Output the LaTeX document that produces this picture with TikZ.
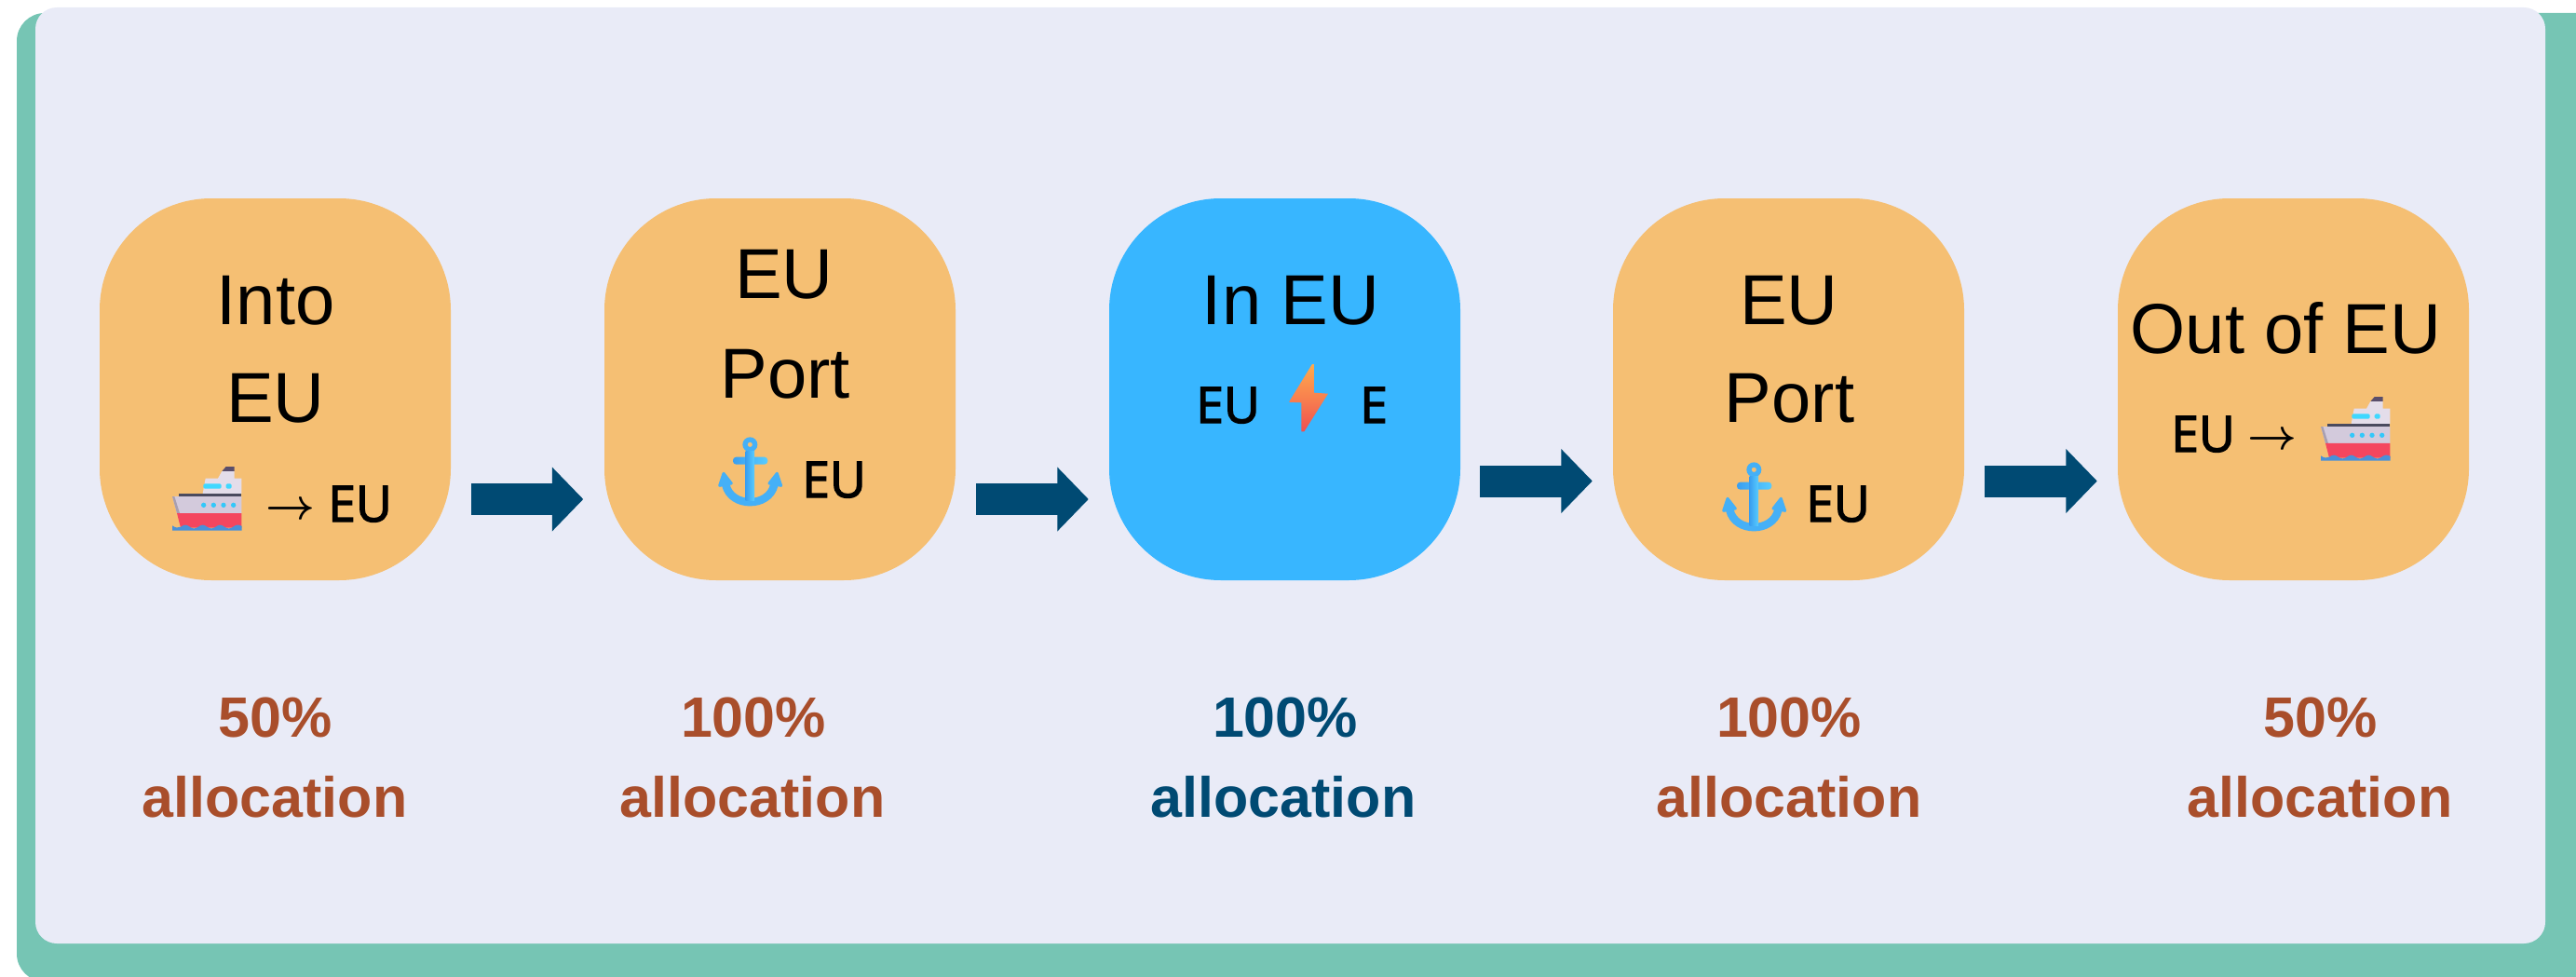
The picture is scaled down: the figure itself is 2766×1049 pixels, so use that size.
\documentclass[tikz,border=0pt]{standalone}
\usepackage{fontspec}
\setmainfont{Liberation Sans}
\newfontfamily\iconfont[FakeBold=2.5]{Open Sans}
\usetikzlibrary{arrows.meta,calc}
\definecolor{frameGreen}{HTML}{76C5B4}
\definecolor{panelBg}{HTML}{E9EBF7}
\definecolor{stepOrange}{HTML}{F5BF73}
\definecolor{stepBlue}{HTML}{38B6FF}
\definecolor{navyArrow}{HTML}{004A73}
\definecolor{rust}{HTML}{A94E2B}
\tikzset{
  stepbox/.style={rounded corners=120pt,minimum width=377pt,minimum height=410pt,inner sep=0pt,fill=stepOrange,draw=none},
  bigtext/.style={font=\fontsize{76}{82}\selectfont,anchor=base,inner sep=0pt,text=black},
  icontext/.style={font=\iconfont\fontsize{53.5}{58}\selectfont,anchor=base west,inner sep=0pt,text=black},
  thinarrow/.style={scale=4.6,inner sep=0pt,text=black,font=\boldmath},
  pct/.style={font=\bfseries\fontsize{61}{67}\selectfont,anchor=base,inner sep=0pt,text=rust},
  blockarrow/.style={draw=navyArrow,line width=34pt,-{Triangle[length=33.5pt,width=67pt,fill=navyArrow]}},
  pics/ship/.style={code={
    \begin{scope}[x=.3333pt,y=-.3333pt]
      \fill[fill={rgb,255:red,90;green,78;blue,107}] (160,15)--(173,0)--(200,0)--(200,15)--cycle;
      \fill[fill={rgb,255:red,228;green,221;blue,234}] (147,38)--(160,15)--(200,15)--(200,38)--(223,38)--(223,87)--(98,87)--(107,38)--cycle;
      \fill[fill={rgb,255:red,63;green,216;blue,255},rounded corners=1.5pt] (100,55) rectangle (158,71);
      \fill[fill={rgb,255:red,63;green,216;blue,255},rounded corners=1.5pt] (173,55) rectangle (191,71);
      \fill[fill={rgb,255:red,211;green,202;blue,220}] (0,96)--(223,96)--(223,150)--(15,150)--cycle;
      \fill[fill={rgb,255:red,168;green,159;blue,176}] (0,96)--(7,96)--(24,150)--(15,150)--cycle;
      \fill[fill={rgb,255:red,74;green,74;blue,94}] (22,87) rectangle (223,96);
      \foreach \px in {101,133,165,197}{\fill[fill={rgb,255:red,50;green,200;blue,250}] (\px,124) circle (8);}
      \fill[fill={rgb,255:red,244;green,70;blue,95}] (15,150)--(223,150)--(223,197)--(27,197)--cycle;
      \fill[fill={rgb,255:red,74;green,144;blue,217}] (0,190)
        .. controls (10,198) and (20,198) .. (28,194) .. controls (38,186) and (46,186) .. (56,194)
        .. controls (66,201) and (74,201) .. (84,194) .. controls (94,186) and (102,186) .. (112,194)
        .. controls (122,201) and (130,201) .. (140,194) .. controls (150,186) and (158,186) .. (168,194)
        .. controls (178,201) and (186,201) .. (196,194) .. controls (206,186) and (214,186) .. (224,192)
        -- (224,206) -- (0,206) -- cycle;
    \end{scope}}},
  pics/anchorsign/.style={code={
    \begin{scope}[x=.3333pt,y=-.3333pt]
      \definecolor{ancA}{HTML}{3A9FF0}\definecolor{ancB}{HTML}{58CCFF}\definecolor{ancM}{HTML}{45B0F7}
      \draw[ancM,line width=8.5pt] (25,155) .. controls (42,229) and (164,229) .. (181,155);
      \fill[ancM,even odd rule] (103,25) circle (24) (103,25) circle (8);
      \shade[left color=ancA,right color=ancB,rounded corners=3.5pt] (48,65) rectangle (160,89);
      \shade[left color=ancA,right color=ancB] (89,47) rectangle (117,207);
      \filldraw[ancM,line width=3pt,line join=round] (18,118)--(5,157)--(43,150)--cycle;
      \filldraw[ancM,line width=3pt,line join=round] (190,118)--(203,157)--(165,150)--cycle;
    \end{scope}}},
  pics/bolt/.style={code={
    \definecolor{boltA}{HTML}{FFA94D}\definecolor{boltB}{HTML}{EF4F50}
    \shade[top color=boltA,bottom color=boltB,middle color=boltA!55!boltB]
      (24.9,0)--(0,40.7)--(13.4,41.3)--(13.4,72.3)--(16.4,72.3)--(42,31.7)--(26.8,30.7)--(26.8,0)--cycle;}}
}
\begin{document}
\begin{tikzpicture}[x=1pt,y=-1pt]
\useasboundingbox (0,0) rectangle (2766,1049);
\clip (0,0) rectangle (2766,1049);
\fill[frameGreen,rounded corners=30pt] (18,14) rectangle (2820,1054);
\fill[panelBg,rounded corners=23pt] (38,8) rectangle (2733,1013);

\node[stepbox] (b1) at (295.5,418) {};
\node[stepbox] (b2) at (837.5,418) {};
\node[stepbox,fill=stepBlue] (b3) at (1379.5,418) {};
\node[stepbox] (b4) at (1920.5,418) {};
\node[stepbox] (b5) at (2462.5,418) {};

\draw[blockarrow] ($(b1.east)+(22,118)$) -- ($(b2.west)+(-22.5,118)$);
\draw[blockarrow] ($(b2.east)+(22,118)$) -- ($(b3.west)+(-22,118)$);
\draw[blockarrow] ($(b3.east)+(21,98.5)$) -- ($(b4.west)+(-22,98.5)$);
\draw[blockarrow] ($(b4.east)+(22,98.5)$) -- ($(b5.west)+(-22,98.5)$);

% box 1
\node[bigtext] (t1a) at (296,348) {Into};
\node[bigtext] (t1b) at (296,453) {EU};
\pic at (185,501) {ship};
\node[thinarrow] (a1) at (311.5,548) {$\rightarrow$};
\node[icontext] (e1) at (352,560) {EU};
% box 2
\node[bigtext] (t2a) at (842,320) {EU};
\node[bigtext] (t2b) at (843,427) {Port};
\pic at (771,469) {anchorsign};
\node[icontext] (e2) at (861,534) {EU};
% box 3
\node[bigtext] (t3a) at (1386,348) {In EU};
\node[icontext] (e3a) at (1284,454) {EU};
\pic at (1384,391) {bolt};
\node[icontext] (e3b) at (1460,454) {E};
% box 4
\node[bigtext] (t4a) at (1921,348) {EU};
\node[bigtext] (t4b) at (1921.5,453) {Port};
\pic at (1849,496) {anchorsign};
\node[icontext] (e4) at (1939,560) {EU};
% box 5
\node[bigtext] (t5a) at (2454.5,379) {Out of EU};
\node[icontext] (e5) at (2331,485) {EU};
\node[thinarrow] (a5) at (2439.5,473) {$\rightarrow$};
\pic at (2492,426) {ship};

% labels
\node[pct] (p1a) at (296,791) {50\%};
\node[pct] (p1b) at (295,877) {allocation};
\node[pct] (p2a) at (809,791) {100\%};
\node[pct] (p2b) at (808,877) {allocation};
\node[pct,text=navyArrow] (p3a) at (1380,791) {100\%};
\node[pct,text=navyArrow] (p3b) at (1378,877) {allocation};
\node[pct] (p4a) at (1921,791) {100\%};
\node[pct] (p4b) at (1921,877) {allocation};
\node[pct] (p5a) at (2492,791) {50\%};
\node[pct] (p5b) at (2491,877) {allocation};
\end{tikzpicture}
\end{document}
